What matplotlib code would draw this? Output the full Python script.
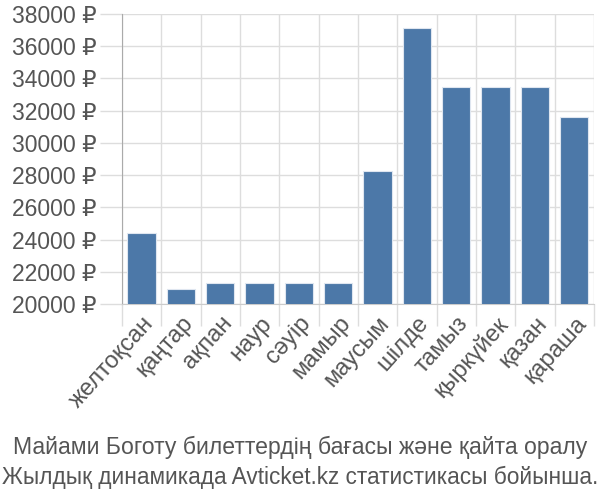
import numpy as np
import matplotlib.pyplot as plt

# месяцы и цены
months = ['желтоқсан', 'қаңтар', 'ақпан', 'наур', 'сәуір', 'мамыр',
          'маусым', 'шілде', 'тамыз', 'қыркүйек', 'қазан', 'қараша']
prices = [24400, 20900, 21300, 21300, 21300, 21300,
          28250, 37150, 33450, 33450, 33450, 31630]
yticks = list(range(20000, 38001, 2000))
title_lines = ['Майами Боготу билеттердің бағасы және қайта оралу',
               'Жылдық динамикада Avticket.kz статистикасы бойынша.']

plt.rcParams['font.family'] = ['Liberation Sans Narrow', 'Liberation Sans', 'DejaVu Sans']
txt_color = '#555555'

fig = plt.figure(figsize=(6, 5), dpi=100)
ax = fig.add_axes([0.203, 0.392, 0.787, 0.58])

x = np.arange(len(months))
ax.bar(x, prices, width=0.72, color='#4c78a8', edgecolor='#dfe6f0', linewidth=0.8, zorder=3)

ax.set_xlim(-0.5, len(months) - 0.5)
ax.set_ylim(20000, 38000)

# сетка по границам категорий
ax.set_xticks(np.arange(-0.5, len(months), 1.0), minor=True)
ax.set_xticks(x)
ax.set_xticklabels(months, rotation=48, ha='right', va='top',
                   rotation_mode='anchor', fontsize=17, color=txt_color)
ax.tick_params(axis='x', which='major', length=0, pad=6)
ax.tick_params(axis='x', which='minor', length=16, color='#dddddd', width=1)
ax.grid(True, which='minor', axis='x', color='#dddddd', linewidth=1, zorder=0)

ax.set_yticks(yticks)
ax.set_yticklabels([f'{v} ₽' for v in yticks], fontsize=16.5, color=txt_color)
ax.tick_params(axis='y', length=16, color='#dddddd', width=1, pad=2)
ax.grid(True, which='major', axis='y', color='#dddddd', linewidth=1, zorder=0)

for s in ['top', 'right']:
    ax.spines[s].set_visible(False)
ax.spines['left'].set_color('#aaaaaa')
ax.spines['bottom'].set_color('#cccccc')

fig.text(0.5, 0.106, title_lines[0], ha='center', va='center', fontsize=16.6, color=txt_color)
fig.text(0.5, 0.046, title_lines[1], ha='center', va='center', fontsize=16.3, color=txt_color)

fig.savefig('out.png', dpi=100)
